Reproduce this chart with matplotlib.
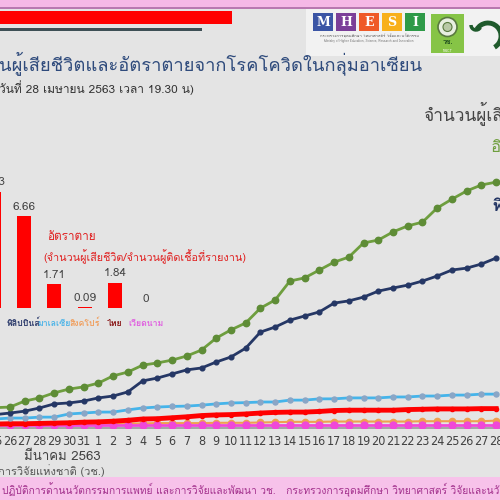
import numpy as np
import matplotlib
matplotlib.use('Agg')
import matplotlib.pyplot as plt
import matplotlib.font_manager as fm
from matplotlib.ft2font import FT2Font
from matplotlib.patches import Rectangle, Circle, Arc

# find a font that has Thai glyphs
thai_font = None
for f in fm.fontManager.ttflist:
    try:
        if 0x0E01 in FT2Font(f.fname).get_charmap():
            thai_font = f.name
            break
    except Exception:
        pass
fams = [thai_font, 'DejaVu Sans'] if thai_font else ['DejaVu Sans']
plt.rcParams['font.family'] = fams

# narrow, regular-weight font for the crowded day labels, if there is one
narrow = None
for f in fm.fontManager.ttflist:
    if f.style != 'normal' or f.weight not in (400, 'normal', 'regular', 'book'):
        continue
    if 'Narrow' in f.name or f.stretch in ('condensed', 'semi-condensed'):
        narrow = f
        break

# ---- data ----
day_labels = ['25', '26', '27', '28', '29', '30', '31'] + [str(d) for d in range(1, 29)]

indonesia = [55, 57, 76, 86, 102, 114, 121, 133, 156, 168, 190, 197, 206, 219, 238, 276, 302, 324,
             371, 397, 457, 467, 492, 517, 533, 578, 587, 613, 632, 644, 689, 717, 743, 762, 771]
philippines = [33, 38, 44, 54, 67, 70, 76, 86, 92, 105, 140, 149, 162, 175, 181, 200, 216, 244,
               295, 311, 333, 346, 359, 387, 394, 406, 425, 435, 444, 457, 473, 492, 498, 511, 530]
malaysia = [19, 22, 22, 25, 25, 35, 38, 41, 41, 48, 54, 57, 59, 60, 63, 67, 70, 71,
            73, 73, 79, 79, 83, 83, 86, 86, 86, 89, 89, 92, 92, 95, 95, 98, 98]
thailand = [3, 4, 4, 5, 6, 7, 9, 10, 12, 15, 19, 20, 23, 26, 30, 32, 33, 35, 38,
            40, 41, 41, 43, 46, 47, 47, 47, 47, 49, 50, 51, 51, 51, 52, 52]
singapore = [2, 2, 2, 2, 2, 3, 3, 3, 4, 5, 5, 6, 6, 6, 6, 7, 7, 7, 8,
             9, 10, 10, 10, 11, 11, 11, 11, 11, 11, 12, 12, 12, 12, 12, 14]
vietnam = [0] * 35

countries = ['อินโดนีเซีย', 'ฟิลิปปินส์', 'มาเลเซีย', 'สิงคโปร์', 'ไทย', 'เวียดนาม']
death_rate = [8.43, 6.66, 1.71, 0.09, 1.84, 0]
rate_labels = ['8.43', '6.66', '1.71', '0.09', '1.84', '0']
name_colors = ['#6e9e3e', '#2b3a6b', '#4fb5e8', '#f0a060', '#8b1a1a', '#e060e0']

BG = '#e4e4e4'
W = 500.0

def fx(x):
    return x / W

def fy(y):
    return 1 - y / W

fig = plt.figure(figsize=(5, 5), dpi=100, facecolor=BG)

def rect(x0, y0, x1, y1, color, **kw):
    fig.add_artist(Rectangle((fx(x0), fy(y1)), fx(x1 - x0), (y1 - y0) / W,
                             transform=fig.transFigure, facecolor=color,
                             edgecolor='none', **kw))

# ---- header ----
rect(0, 0, 500, 8, '#f5b8e6')
rect(0, 7, 500, 8.5, '#b878b0')
rect(0, 11, 232, 24, '#ff0000')
rect(0, 28, 202, 31, '#3d4f55')
rect(306, 8.5, 500, 56, '#f2f2f2')

# MHESI logo
mhesi = ['M', 'H', 'E', 'S', 'I']
mcol = ['#3b55a5', '#7b3f98', '#ef5a28', '#f8b01b', '#2e9a48']
for k, (ch, c) in enumerate(zip(mhesi, mcol)):
    x0 = 313 + 23 * k
    rect(x0, 13, x0 + 20, 31, c)
    fig.text(fx(x0 + 10), fy(22), ch, color='white', fontsize=9, fontweight='bold',
             family='DejaVu Serif', ha='center', va='center')
fig.text(fx(369), fy(36), 'กระทรวงการอุดมศึกษา วิทยาศาสตร์ วิจัยและนวัตกรรม',
         fontsize=3, color='#555555', ha='center', va='center')
fig.text(fx(369), fy(41), 'Ministry of Higher Education, Science, Research and Innovation',
         fontsize=2.2, color='#777777', ha='center', va='center')

# NRCT logo
rect(431, 14, 464, 53, '#86c446')
fig.add_artist(Circle((fx(447.5), fy(27)), 9.5 / W, transform=fig.transFigure,
                      facecolor='#e8efe0', edgecolor='#5a7a40', lw=1.2))
fig.add_artist(Circle((fx(447.5), fy(27)), 4.5 / W, transform=fig.transFigure,
                      facecolor='#b9c9a6', edgecolor='#5a7a40', lw=0.8))
fig.text(fx(447.5), fy(42), 'วช.', fontsize=5, color='#1e4d1e', fontweight='bold',
         ha='center', va='center')
fig.text(fx(447.5), fy(50.5), 'NRCT', fontsize=2.6, color='white', ha='center', va='center')
# swoosh
fig.add_artist(Arc((fx(488), fy(36)), 26 / W, 26 / W, theta1=-60, theta2=150,
                   transform=fig.transFigure, color='#1f5a2c', lw=3.5))
fig.add_artist(Arc((fx(476), fy(25)), 10 / W, 10 / W, theta1=180, theta2=330,
                   transform=fig.transFigure, color='#1f5a2c', lw=2.5))

# title / subtitle
fig.text(fx(-1), fy(63), 'นผู้เสียชีวิตและอัตราตายจากโรคโควิดในกลุ่มอาเซียน',
         fontsize=13.2, color='#2f4b7c', ha='left', va='center')
fig.text(fx(-1), fy(88), 'วันที่ 28 เมษายน 2563 เวลา 19.30 น)',
         fontsize=8.6, color='#333333', ha='left', va='center')

# ---- line chart ----
x = np.arange(len(day_labels))
ax = fig.add_axes([fx(-19.46), fy(428), 522.97 / W, 328 / W])
ax.set_facecolor('none')
ax.set_xlim(-1, 34.5)
ax.set_ylim(-9.52, 1031.7)
ax.plot(x, singapore, color='#f0a050', lw=1.5, marker='o', ms=4.5, mfc='#f0a050', mec='#f0a050', zorder=2)
ax.plot(x, vietnam, color='#f048d8', lw=2, marker='o', ms=5, mfc='#f048d8', mec='#f048d8', zorder=3)
ax.plot(x, thailand, color='#ff0000', lw=3.5, marker='o', ms=3, mfc='#ff0000', mec='#ff0000', zorder=4)
ax.plot(x, malaysia, color='#45b4ea', lw=2, marker='o', ms=3.6, mfc='#8aa6c6', mec='#8aa6c6', zorder=4)
ax.plot(x, philippines, color='#253765', lw=2, marker='o', ms=3.4, mfc='#253765', mec='#253765', zorder=5)
ax.plot(x, indonesia, color='#6e9e3e', lw=2, marker='o', ms=4.6, mfc='#5e8c36', mec='#5e8c36', zorder=6)
for s in ['top', 'left', 'right']:
    ax.spines[s].set_visible(False)
ax.spines['bottom'].set_color('#9a9a9a')
ax.spines['bottom'].set_linewidth(1.2)
ax.set_yticks([])
ax.set_xticks(x)
if narrow is not None:
    ax.set_xticklabels(day_labels, color='#404040',
                       fontproperties=fm.FontProperties(fname=narrow.fname, size=9))
else:
    ax.set_xticklabels(day_labels, fontsize=8, color='#404040')
ax.tick_params(axis='x', length=0, pad=5)

fig.text(fx(62), fy(457), 'มีนาคม 2563', fontsize=9.5, color='#404040', ha='center', va='center')
fig.text(fx(-2), fy(471), 'การวิจัยแห่งชาติ (วช.)', fontsize=8, color='#555555', ha='left', va='center')

# right side labels
fig.text(fx(423), fy(113), 'จำนวนผู้เสียชีวิต', fontsize=12.5, color='#444444', ha='left', va='center')
fig.text(fx(491), fy(148), 'อินโดนีเซีย', fontsize=12, color='#6e9e3e', ha='left', va='center')
fig.text(fx(492), fy(205), 'ฟิลิปปินส์', fontsize=12, color='#253765', ha='left', va='center',
         fontweight='bold')

# ---- death-rate bars ----
bx = fig.add_axes([fx(-21.6), fy(308), 182.4 / W, 138 / W])
bx.set_facecolor('none')
bx.axis('off')
bx.set_xlim(-0.5, 5.5)
bx.set_ylim(0, 10)
pos = np.arange(len(countries))
bars = bx.bar(pos, death_rate, width=0.46, color='#ff0000')
for p, v, lab in zip(pos, death_rate, rate_labels):
    bx.annotate(lab, (p, v), xytext=(0, 3), textcoords='offset points',
                ha='center', va='bottom', fontsize=8.5, color='#444444')
for p, name, c in zip(pos[1:], countries[1:], name_colors[1:]):
    bx.annotate(name, (p, 0), xytext=(0, -11), textcoords='offset points',
                ha='center', va='center', fontsize=6.3, color=c, fontweight='bold')

fig.text(fx(47), fy(237), 'อัตราตาย', fontsize=8.5, color='#e02020', ha='left', va='center')
fig.text(fx(43), fy(257), '(จำนวนผู้เสียชีวิต/จำนวนผู้ติดเชื้อที่รายงาน)', fontsize=7.8,
         color='#e02020', ha='left', va='center')

# ---- footer ----
rect(0, 477, 500, 500, '#f7c2ea')
fig.text(fx(2), fy(490),
         'ปฏิบัติการด้านนวัตกรรมการแพทย์ และการวิจัยและพัฒนา วช.   กระทรวงการอุดมศึกษา วิทยาศาสตร์ วิจัยและนวัตกรรม',
         fontsize=7.4, color='#a2308c', ha='left', va='center')

fig.savefig('out.png', dpi=100, facecolor=BG)
